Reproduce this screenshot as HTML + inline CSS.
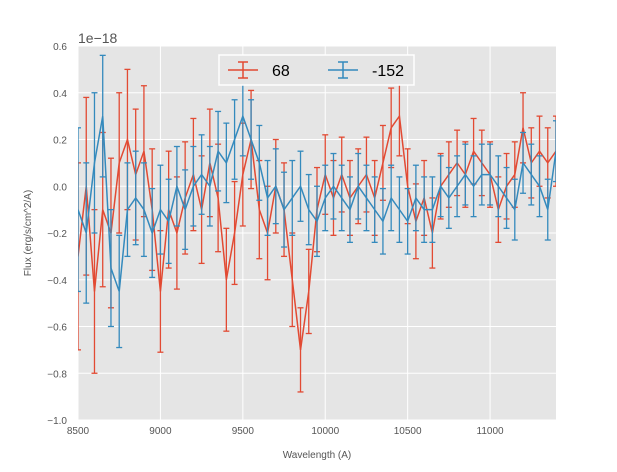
<!DOCTYPE html>
<html><head><meta charset="utf-8"><style>
body{margin:0;background:#fff;font-family:"Liberation Sans",sans-serif}
svg text{font-family:"Liberation Sans",sans-serif}
</style></head><body>
<svg id="c" width="617" height="467" xmlns="http://www.w3.org/2000/svg">
<defs><clipPath id="pc"><rect x="78" y="46" width="478" height="374"/></clipPath></defs>
<rect x="78" y="46" width="478" height="374" fill="#e5e5e5"/>
<g id="grid"></g><g id="ticks"></g>
<g id="series" clip-path="url(#pc)"></g>
<text x="78" y="43" font-size="14" fill="#555">1e−18</text>
<text x="317" y="458" font-size="10" fill="#555" text-anchor="middle">Wavelength (A)</text>
<text transform="translate(31,233) rotate(-90)" font-size="10" fill="#555" text-anchor="middle">Flux (erg/s/cm^2/A)</text>
<g>
<rect x="219" y="55" width="195" height="30" fill="#e5e5e5" stroke="#fff" stroke-width="1.5"/>
<g stroke="#E24A33" stroke-width="1.5">
<line x1="228" y1="70" x2="258" y2="70"/><line x1="243" y1="62" x2="243" y2="78"/><line x1="238" y1="62" x2="248" y2="62"/><line x1="238" y1="78" x2="248" y2="78"/></g>
<text x="272" y="76" font-size="16" fill="#000">68</text>
<g stroke="#348ABD" stroke-width="1.5">
<line x1="328" y1="70" x2="358" y2="70"/><line x1="343" y1="62" x2="343" y2="78"/><line x1="338" y1="62" x2="348" y2="62"/><line x1="338" y1="78" x2="348" y2="78"/></g>
<text x="372" y="76" font-size="16" fill="#000">-152</text>
</g>
</svg>
<script>
const xTicks=[8500,9000,9500,10000,10500,11000];
const yTicks=[-1.0,-0.8,-0.6,-0.4,-0.2,0.0,0.2,0.4,0.6];
const yTickLabels=["−1.0","−0.8","−0.6","−0.4","−0.2","0.0","0.2","0.4","0.6"];
const wlStart=8500, wlStep=50;
const red=[-0.3,0.0,-0.45,-0.1,-0.2,0.1,0.2,0.05,0.15,-0.1,
-0.45,-0.1,-0.2,-0.05,0.05,-0.1,0.1,-0.05,-0.4,-0.2,
0.05,0.2,-0.1,-0.2,0.0,-0.1,-0.4,-0.7,-0.45,-0.1,
0.05,-0.05,0.05,-0.05,0.0,0.05,-0.05,0.1,0.25,0.3,
0.0,-0.15,-0.05,-0.2,0.0,0.05,0.1,0.05,0.15,0.1,
0.05,-0.1,0.0,0.05,0.25,0.1,0.15,0.1,0.15];
const redErr=[0.4,0.38,0.35,0.33,0.32,0.3,0.3,0.28,0.28,0.26,
0.26,0.25,0.24,0.24,0.24,0.23,0.23,0.23,0.22,0.22,
0.22,0.21,0.21,0.2,0.2,0.2,0.2,0.18,0.18,0.18,
0.17,0.16,0.16,0.16,0.16,0.16,0.16,0.16,0.17,0.17,
0.16,0.16,0.16,0.15,0.14,0.14,0.14,0.14,0.14,0.14,
0.14,0.14,0.14,0.14,0.15,0.15,0.15,0.15,0.15];
const blue=[-0.1,-0.2,0.1,0.3,-0.35,-0.45,-0.1,-0.05,-0.1,-0.2,
-0.1,-0.15,0.0,-0.1,0.0,0.05,0.0,0.15,0.1,0.2,
0.3,0.2,0.1,-0.05,0.0,-0.1,-0.05,0.0,-0.1,-0.15,
-0.05,0.0,-0.05,-0.1,0.0,-0.05,-0.1,-0.15,-0.05,-0.1,
-0.15,-0.05,-0.1,-0.1,0.0,-0.05,0.0,0.05,0.0,0.05,
0.05,0.0,-0.05,-0.1,0.1,0.05,0.0,-0.1,0.15];
const blueErr=[0.35,0.3,0.3,0.26,0.25,0.24,0.2,0.2,0.2,0.19,
0.19,0.18,0.17,0.17,0.17,0.17,0.17,0.17,0.17,0.17,
0.17,0.17,0.16,0.16,0.16,0.16,0.16,0.15,0.15,0.15,
0.14,0.14,0.14,0.14,0.14,0.14,0.14,0.14,0.14,0.14,
0.14,0.14,0.14,0.14,0.13,0.13,0.13,0.13,0.13,0.13,
0.13,0.13,0.13,0.13,0.13,0.13,0.13,0.13,0.13];
const X0=78,X1=556,Y0=420,Y1=46;
const xs=v=>X0+(v-8500)/(11400-8500)*(X1-X0);
const ys=v=>Y0-(v+1.0)/1.6*(Y0-Y1);
const NS="http://www.w3.org/2000/svg";
function mk(t,a,p){const e=document.createElementNS(NS,t);for(const k in a)e.setAttribute(k,a[k]);p.appendChild(e);return e;}
const grid=document.getElementById('grid'),ticks=document.getElementById('ticks');
xTicks.forEach(v=>{
const l=mk('line',{x1:xs(v),x2:xs(v),y1:Y1,y2:Y0,stroke:'#fff','stroke-width':1},grid);


const t=mk('text',{x:xs(v),y:Y0+14,'font-size':10,fill:'#555','text-anchor':'middle'},ticks);
t.textContent=v;


});
yTicks.forEach((v,i)=>{
const l=mk('line',{x1:X0,x2:X1,y1:ys(v),y2:ys(v),stroke:'#fff','stroke-width':1},grid);


const t=mk('text',{x:X0-11,y:ys(v)+4,'font-size':10,fill:'#555','text-anchor':'end'},ticks);
t.textContent=yTickLabels[i];


});
const ser=document.getElementById('series');
function draw(vals,errs,col,name){
const g=mk('g',{stroke:col,'stroke-width':1.3,fill:'none'},ser);


let d='';
vals.forEach((v,i)=>{
const x=xs(wlStart+i*wlStep),e=errs[i];
d+=(i?'L':'M')+x+','+ys(v);
mk('line',{x1:x,x2:x,y1:ys(v-e),y2:ys(v+e)},g);
mk('line',{x1:x-3,x2:x+3,y1:ys(v-e),y2:ys(v-e)},g);
mk('line',{x1:x-3,x2:x+3,y1:ys(v+e),y2:ys(v+e)},g);
});
const p=mk('path',{d:d,'stroke-width':1.5},g);


}
draw(red,redErr,'#E24A33','series-68');
draw(blue,blueErr,'#348ABD','series-minus152');
</script>
</body></html>
